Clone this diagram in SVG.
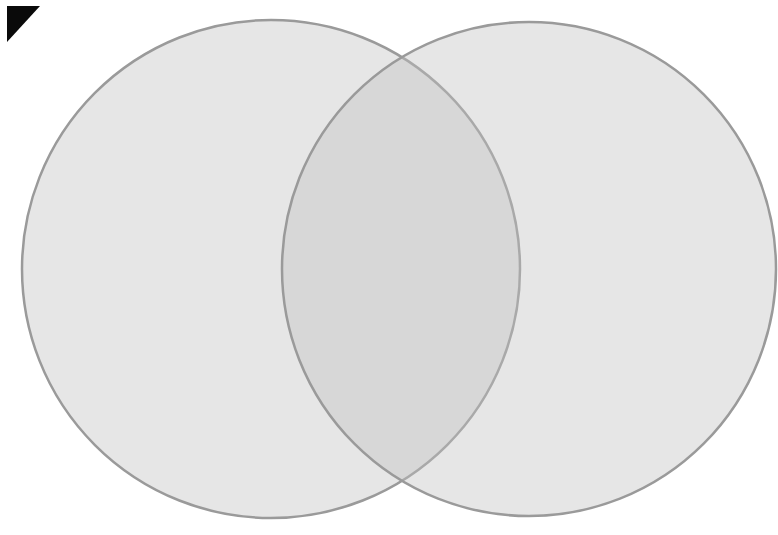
<svg xmlns="http://www.w3.org/2000/svg" width="778" height="535" viewBox="0 0 778 535">
<style>
.set{fill:#c0c0c0;fill-opacity:0.4;stroke:#9a9a9a;stroke-width:2.5}
</style>
<rect width="778" height="535" fill="#ffffff"/>
<polygon points="7,6 40,6 7,42" fill="#0a0a0a"/>
<g id="setA"><circle class="set" cx="271" cy="269" r="249"/></g>
<g id="setB"><circle class="set" cx="529" cy="269" r="247"/></g>
<g id="connectors"></g>
</svg>
